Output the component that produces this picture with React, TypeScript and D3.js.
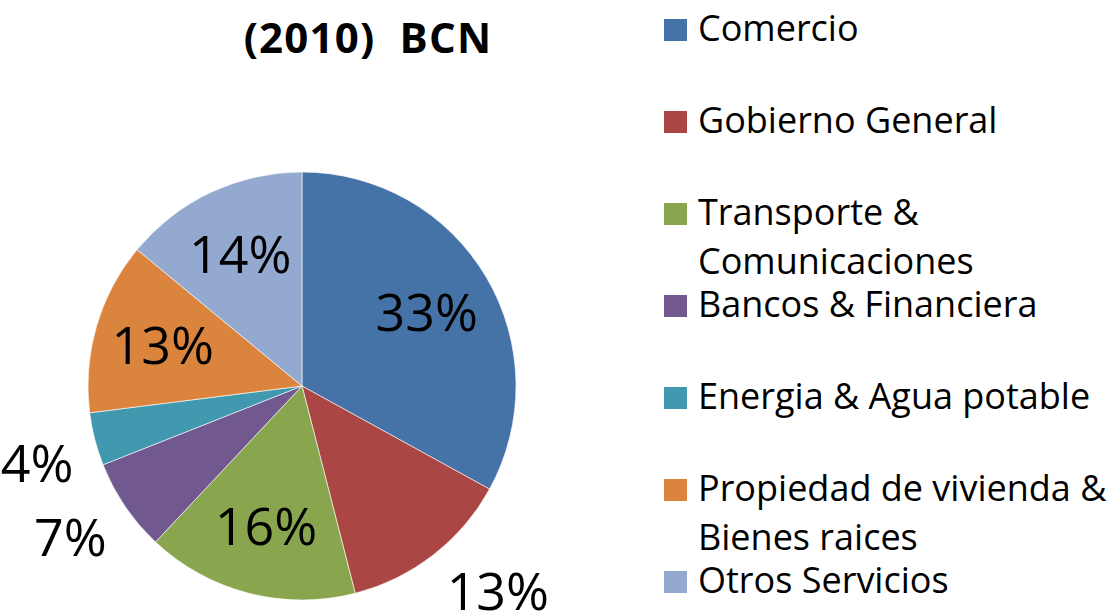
import React from "react";
import * as d3 from "d3";

const title = "(2010)  BCN";
const categories = [
  "Comercio",
  "Gobierno General",
  "Transporte & Comunicaciones",
  "Bancos & Financiera",
  "Energia & Agua potable",
  "Propiedad de vivienda & Bienes raices",
  "Otros Servicios",
];
const legendLines = [
  ["Comercio"],
  ["Gobierno General"],
  ["Transporte &", "Comunicaciones"],
  ["Bancos & Financiera"],
  ["Energia & Agua potable"],
  ["Propiedad de vivienda &", "Bienes raices"],
  ["Otros Servicios"],
];
const values = [33, 13, 16, 7, 4, 13, 14];
const colors = ["#4572A7", "#AA4643", "#89A54E", "#71588F", "#4198AF", "#DB843D", "#93A9CF"];
const labelPlacement = ["inside", "outside", "inside", "outside", "outside", "inside", "inside"];

const W = 1116;
const H = 615;
const cx = 302;
const cy = 386;
const R = 214;
const FONT = "'Open Sans', 'Noto Sans', sans-serif";

export default function App() {
  const pie = d3.pie<number>().sort(null).value((d) => d)(values);
  const arc = d3.arc<d3.PieArcDatum<number>>().innerRadius(0).outerRadius(R);
  const labelArc = d3.arc<d3.PieArcDatum<number>>().innerRadius(145).outerRadius(145);
  const total = d3.sum(values);
  const fmt = (v: number) => `${Math.round((v / total) * 100)}%`;
  const labelSize = 52;
  const cap = labelSize * 0.714;

  return (
    <svg
      width={W}
      height={H}
      style={{ position: "absolute", left: 0, top: 0, background: "#fff" }}
      fontFamily={FONT}
    >
      <text x={368} y={53} textAnchor="middle" fontSize={42} fontWeight={700} letterSpacing={1.2} fill="#000" xmlSpace="preserve" style={{ whiteSpace: "pre" }}>
        {title}
      </text>
      <g transform={`translate(${cx},${cy})`}>
        {pie.map((p, i) => (
          <path key={i} d={arc(p) || ""} fill={colors[i]} stroke="#ffffff" strokeOpacity={0.6} strokeWidth={1} />
        ))}
        {pie.map((p, i) => {
          const mid = (p.startAngle + p.endAngle) / 2;
          if (labelPlacement[i] === "inside") {
            const [x, y] = labelArc.centroid(p);
            return (
              <text key={"l" + i} x={x} y={y + cap / 2} textAnchor="middle" fontSize={labelSize} fill="#000">
                {fmt(values[i])}
              </text>
            );
          }
          const r2 = R + 22;
          const px = r2 * Math.sin(mid);
          const py = -r2 * Math.cos(mid);
          const anchor = Math.sin(mid) >= 0 ? "start" : "end";
          const baseline = py > 0 ? py + cap : py;
          return (
            <text key={"l" + i} x={px} y={baseline} textAnchor={anchor} fontSize={labelSize} fill="#000">
              {fmt(values[i])}
            </text>
          );
        })}
      </g>
      <g>
        {categories.map((c, i) => {
          const base = 41 + i * 92;
          return (
            <g key={c}>
              <rect x={664} y={base - 22} width={23} height={22} fill={colors[i]} />
              {legendLines[i].map((ln, j) => (
                <text key={j} x={698} y={base + j * 49} fontSize={36} fill="#000">
                  {ln}
                </text>
              ))}
            </g>
          );
        })}
      </g>
    </svg>
  );
}
